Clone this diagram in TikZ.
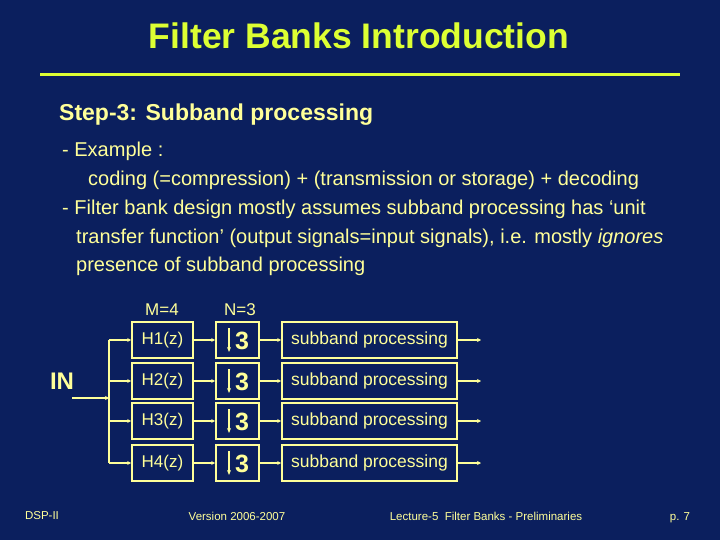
\documentclass[tikz,border=0pt]{standalone}
\usepackage{fontspec}
\setmainfont{Liberation Sans}
\usetikzlibrary{arrows.meta}
\definecolor{bgc}{HTML}{0B1F5E}
\definecolor{yellowt}{HTML}{FFFF99}
\definecolor{titc}{HTML}{DDFF33}
\begin{document}
\begin{tikzpicture}[x=1pt,y=-1pt,
  bx/.style={draw=yellowt,line width=1.6pt,minimum height=36pt,inner sep=0pt,text=yellowt,font=\fontsize{17}{19}\selectfont},
  ln/.style={draw=yellowt,line width=1.5pt,-{Stealth[length=4pt,width=4pt]}},
  tx/.style={text=yellowt,anchor=west,inner sep=0pt,font=\fontsize{20}{24}\selectfont}]
\fill[bgc] (0,0) rectangle (720,540);
\useasboundingbox (0,0) rectangle (720,540);
\node[text=titc,font=\bfseries\fontsize{35.5}{40}\selectfont] (title) at (359,36) {Filter Banks Introduction};
\draw[titc,line width=3pt] (40,75) -- (680,75);
\node[text=yellowt,anchor=west,inner sep=0pt,font=\bfseries\fontsize{23}{26}\selectfont] (step) at (59,115) {Step-3: Subband processing};
\node[tx] (l1) at (62,151) {- Example :};
\node[tx] (l2) at (88,180) {coding (=compression) + (transmission or storage) + decoding};
\node[tx] (l3) at (62,209) {- Filter bank design mostly assumes subband processing has `unit};
\node[tx] (l4) at (76,238) {transfer function' (output signals=input signals), i.e. mostly \textit{ignores}};
\node[tx] (l5) at (76,266) {presence of subband processing};
\node[text=yellowt,font=\fontsize{17}{19}\selectfont] (m) at (162,310) {M=4};
\node[text=yellowt,font=\fontsize{17}{19}\selectfont] (n) at (240,310) {N=3};
\node[text=yellowt,font=\bfseries\fontsize{24}{26}\selectfont] (in) at (62,381) {IN};
\coordinate (inl) at (72,398);
\coordinate (bus) at (109,398);
\draw[yellowt,line width=1.5pt] (109,340) -- (109,463);
\draw[ln] (inl) -- (bus);
\foreach \i/\y in {1/340,2/381,3/421,4/463}{
  \node[bx,minimum width=61pt] (h\i) at (162.5,\y) {H\i(z)};
  \node[bx,minimum width=43pt] (d\i) at (237.5,\y) {};
  \node[text=yellowt,font=\bfseries\fontsize{25}{26}\selectfont,inner sep=0pt] (t\i) at (242,\y+1) {3};
  \coordinate (au\i) at (229,\y-12);
  \coordinate (ad\i) at (229,\y+12);
  \draw[yellowt,line width=1.2pt,-{Stealth[length=5pt,width=4pt]}] (au\i) -- (ad\i);
  \node[bx,minimum width=175pt,font=\fontsize{17.5}{19}\selectfont] (s\i) at (369.5,\y) {subband processing};
  \coordinate (b\i) at (109,\y);
  \coordinate (o\i) at (481,\y);
  \draw[ln] (b\i) -- (h\i);
  \draw[ln] (h\i) -- (d\i);
  \draw[ln] (d\i) -- (s\i);
  \draw[ln] (s\i) -- (o\i);
}
\node[text=yellowt,font=\fontsize{11.5}{13}\selectfont] (f1) at (42,516) {DSP-II};
\node[text=yellowt,font=\fontsize{11.5}{13}\selectfont] (f2) at (237,516) {Version 2006-2007};
\node[text=yellowt,font=\fontsize{11.5}{13}\selectfont] (f3) at (486,516) {Lecture-5 \ Filter Banks - Preliminaries};
\node[text=yellowt,font=\fontsize{11.5}{13}\selectfont] (f4) at (680,518) {p. 7};
\end{tikzpicture}
\end{document}
